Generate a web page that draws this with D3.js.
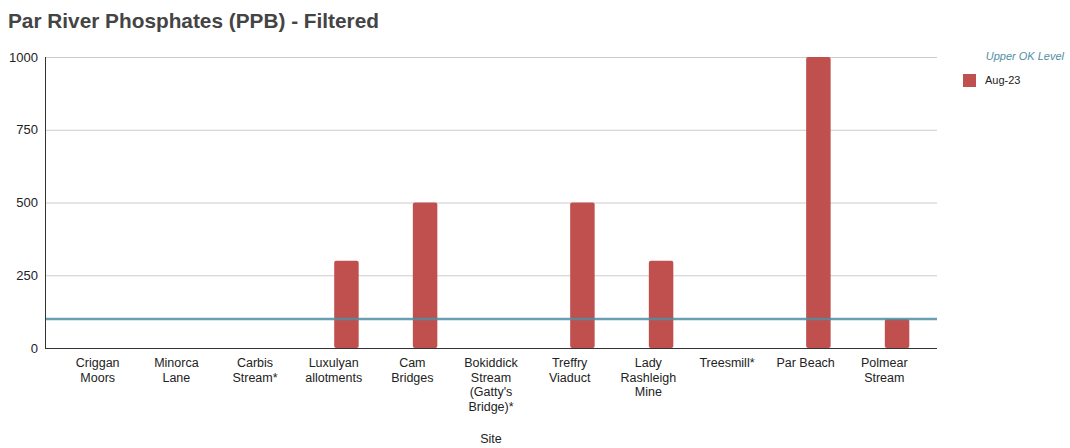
<!DOCTYPE html>
<html>
<head>
<meta charset="utf-8">
<script src="https://cdn.jsdelivr.net/npm/d3@7"></script>
<style>
  body { margin: 0; background: #fff; }
  svg { font-family: Arial, "Liberation Sans", sans-serif; display: block; }
</style>
</head>
<body>
<svg width="1070" height="448"></svg>
<script>
// Chart data
const sites = [
  ['Criggan', 'Moors'],
  ['Minorca', 'Lane'],
  ['Carbis', 'Stream*'],
  ['Luxulyan', 'allotments'],
  ['Cam', 'Bridges'],
  ['Bokiddick', 'Stream', '(Gatty\'s', 'Bridge)*'],
  ['Treffry', 'Viaduct'],
  ['Lady', 'Rashleigh', 'Mine'],
  ['Treesmill*'],
  ['Par Beach'],
  ['Polmear', 'Stream'],
];
const aug23 = [null, null, null, 300, 500, null, 500, 300, null, 1000, 100];
const upperOk = 100;
const seriesNames = ['Upper OK Level', 'Aug-23'];
const yTicks = [0, 250, 500, 750, 1000];

const svg = d3.select('svg');
const margin = { top: 57, right: 133, bottom: 100, left: 45 };
const width = +svg.attr('width');
const height = +svg.attr('height');
const plotRight = width - margin.right;
const plotBottom = height - margin.bottom;

const keys = sites.map((d) => d.join(' '));

// Scales
const x = d3.scalePoint().domain(keys).range([margin.left, plotRight]).padding(0.67);
const sub = d3.scaleBand().domain(seriesNames).range([-25, 25]).paddingInner(0.04);
const y = d3.scaleLinear().domain([0, 1000]).range([plotBottom, margin.top]);

// Title
svg.append('text')
  .attr('x', 8)
  .attr('y', 28)
  .attr('font-size', '20.8px')
  .attr('font-weight', 'bold')
  .attr('fill', '#444')
  .text('Par River Phosphates (PPB) - Filtered');

// Gridlines
svg.append('g')
  .selectAll('line')
  .data(yTicks.filter((t) => t > 0))
  .join('line')
  .attr('x1', margin.left)
  .attr('x2', plotRight)
  .attr('y1', (d) => y(d) + 0.5)
  .attr('y2', (d) => y(d) + 0.5)
  .attr('stroke', '#ccc');

// Y axis labels
const yAxis = d3.axisLeft(y).tickValues(yTicks).tickFormat(d3.format('d'))
  .tickSize(0).tickPadding(7);
const yg = svg.append('g')
  .attr('transform', `translate(${margin.left},0)`)
  .call(yAxis);
yg.select('.domain').remove();
yg.selectAll('text')
  .attr('font-size', '13px')
  .attr('fill', '#222')
  .attr('font-family', 'Arial, "Liberation Sans", sans-serif');

// Bars
svg.append('g')
  .selectAll('rect')
  .data(keys.map((k, i) => ({ k, v: aug23[i] })).filter((d) => d.v != null))
  .join('rect')
  .attr('x', (d) => x(d.k) + sub('Aug-23'))
  .attr('y', (d) => y(d.v))
  .attr('width', sub.bandwidth())
  .attr('height', (d) => y(0) - y(d.v))
  .attr('rx', 2)
  .attr('fill', '#c0504d');

// Upper OK level line
svg.append('line')
  .attr('x1', margin.left)
  .attr('x2', plotRight)
  .attr('y1', y(upperOk))
  .attr('y2', y(upperOk))
  .attr('stroke', '#4f8fa3')
  .attr('stroke-opacity', 0.85)
  .attr('stroke-width', 2.5);

// Axis lines
svg.append('line')
  .attr('x1', margin.left + 0.5)
  .attr('x2', margin.left + 0.5)
  .attr('y1', margin.top)
  .attr('y2', plotBottom)
  .attr('stroke', '#333');
svg.append('line')
  .attr('x1', margin.left)
  .attr('x2', plotRight)
  .attr('y1', plotBottom + 0.5)
  .attr('y2', plotBottom + 0.5)
  .attr('stroke', '#333');

// X labels
const xl = svg.append('g')
  .selectAll('text')
  .data(sites)
  .join('text')
  .attr('x', (d, i) => x(keys[i]))
  .attr('y', plotBottom + 19)
  .attr('text-anchor', 'middle')
  .attr('font-size', '12.5px')
  .attr('fill', '#222');
xl.selectAll('tspan')
  .data((d) => d)
  .join('tspan')
  .attr('x', function () { return d3.select(this.parentNode).attr('x'); })
  .attr('dy', (d, i) => (i === 0 ? 0 : 14.5))
  .text((d) => d);

svg.append('text')
  .attr('x', (x(keys[0]) + x(keys[keys.length - 1])) / 2)
  .attr('y', 443)
  .attr('text-anchor', 'middle')
  .attr('font-size', '12.5px')
  .attr('fill', '#222')
  .text('Site');

// Legend
svg.append('text')
  .attr('x', 1064)
  .attr('y', 60)
  .attr('text-anchor', 'end')
  .attr('font-size', '11px')
  .attr('font-style', 'italic')
  .attr('fill', '#4f8fa3')
  .text('Upper OK Level');
svg.append('rect')
  .attr('x', 963)
  .attr('y', 74)
  .attr('width', 13)
  .attr('height', 13)
  .attr('fill', '#c0504d');
svg.append('text')
  .attr('x', 985)
  .attr('y', 84)
  .attr('font-size', '11px')
  .attr('fill', '#222')
  .text('Aug-23');
</script>
</body>
</html>
